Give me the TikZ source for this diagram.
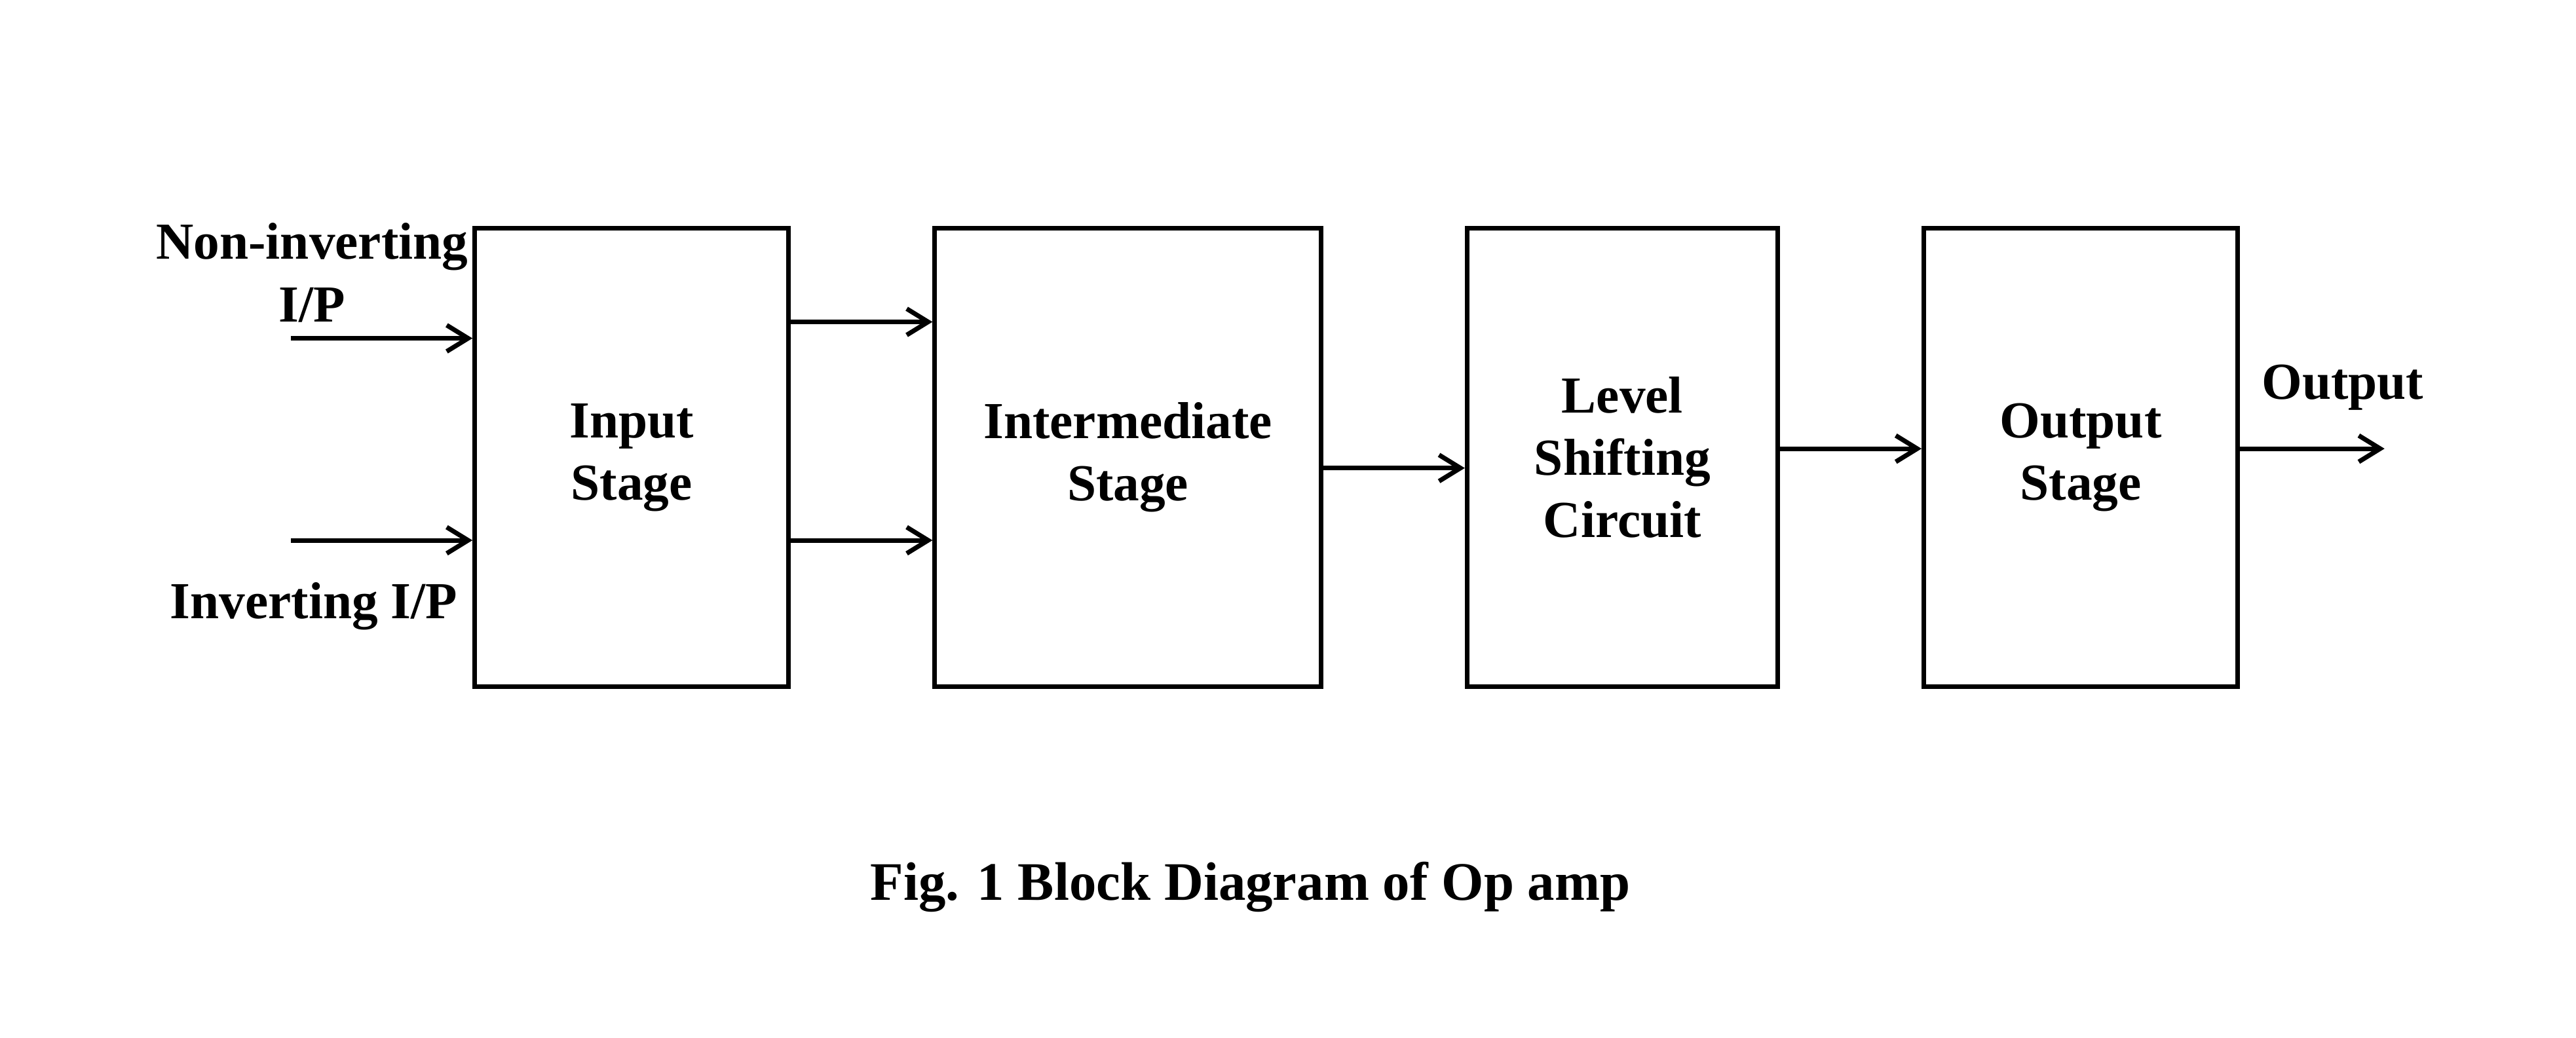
\documentclass[tikz,border=0pt]{standalone}
\usepackage{fontspec}
\setmainfont{Liberation Serif}
\usetikzlibrary{arrows.meta,positioning}

\begin{document}
\begin{tikzpicture}[>={Straight Barb[length=1.3mm,width=1.6mm]},thick,node distance=0.862cm,
  stage/.style={draw,minimum height=2.79cm,inner sep=0pt,align=center,font=\fontsize{9}{10.8}\selectfont\bfseries},
  lbl/.style={inner sep=0pt,align=center,font=\fontsize{9}{10.8}\selectfont\bfseries}]
\useasboundingbox (0,0) rectangle (15.68,-6.32);
% the four stages
\node[stage,minimum width=1.91cm] (in) at (3.845,-2.785) {Input\\Stage};
\node[stage,minimum width=2.35cm,right=of in] (mid) {Intermediate\\Stage};
\node[stage,minimum width=1.89cm,right=of mid] (lvl) {Level\\Shifting\\Circuit};
\node[stage,minimum width=1.91cm,right=of lvl] (out) {Output\\Stage};
% inputs
\coordinate (niStart) at (1.77,-2.06);
\coordinate (invStart) at (1.77,-3.29);
\node[lbl] (niLabel) at (1.90,-1.66) {Non-inverting\\I/P};
\node[lbl] (invLabel) at (1.91,-3.69) {Inverting I/P};
\draw[->] (niStart) -- (niStart -| in.west);
\draw[->] (invStart) -- (invStart -| in.west);
% stage to stage
\draw[->] ([yshift=0.825cm]in.east) -- ([yshift=0.825cm]mid.west);
\draw[->] ([yshift=-0.505cm]in.east) -- ([yshift=-0.505cm]mid.west);
\draw[->] ([yshift=-0.065cm]mid.east) -- ([yshift=-0.065cm]lvl.west);
\draw[->] ([yshift=0.053cm]lvl.east) -- ([yshift=0.053cm]out.west);
% output
\coordinate (outEnd) at ([xshift=0.88cm,yshift=0.053cm]out.east);
\node[lbl] (outLabel) at (14.26,-2.36) {Output};
\draw[->] ([yshift=0.053cm]out.east) -- (outEnd);
% caption
\node[lbl,font=\fontsize{9.4}{11}\selectfont\bfseries] (caption) at (7.61,-5.40) {Fig. 1 Block Diagram of Op amp};
\end{tikzpicture}
\end{document}
